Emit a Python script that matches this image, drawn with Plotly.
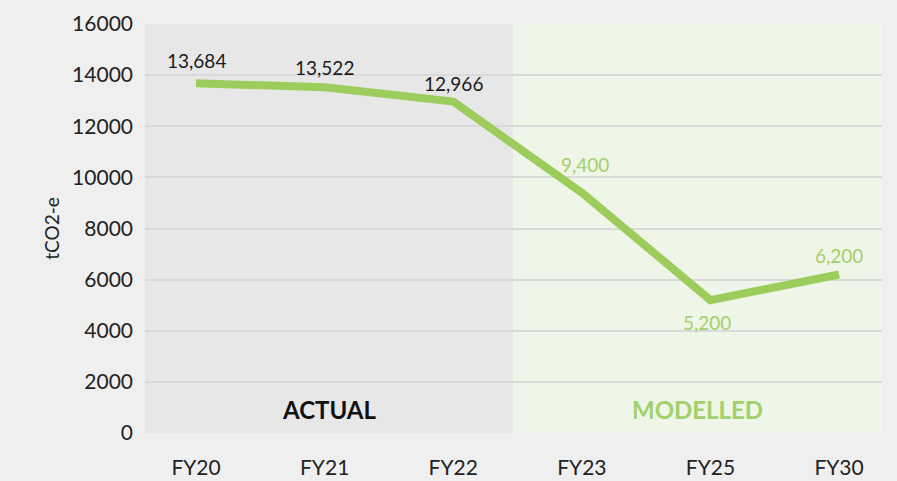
import plotly.graph_objects as go

categories = ["FY20", "FY21", "FY22", "FY23", "FY25", "FY30"]
values = [13684, 13522, 12966, 9400, 5200, 6200]
value_labels = ["13,684", "13,522", "12,966", "9,400", "5,200", "6,200"]
is_actual = [True, True, True, False, False, False]
y_ticks = [0, 2000, 4000, 6000, 8000, 10000, 12000, 14000, 16000]

GREEN = "#9ccd5c"
GREEN_TXT = "#a2d06a"
FONT = "Lato, 'Open Sans', sans-serif"

xs = list(range(len(categories)))
x_lo, x_hi = -0.397, 5.334
split = 2.465

fig = go.Figure()
fig.add_trace(go.Scatter(
    x=xs, y=values, mode="lines",
    line=dict(color=GREEN, width=8, shape="linear"),
    hoverinfo="skip", showlegend=False,
))

fig.add_shape(type="rect", xref="x", yref="y", x0=x_lo, x1=split, y0=0, y1=16000,
              fillcolor="#e7e7e7", line_width=0, layer="below")
fig.add_shape(type="rect", xref="x", yref="y", x0=split, x1=x_hi, y0=0, y1=16000,
              fillcolor="#eff5e7", line_width=0, layer="below")

offsets = [(0, 23), (0, 20), (0, 18), (3, 28), (-3, -22), (0, 19)]
for i, (x, v, lab, act) in enumerate(zip(xs, values, value_labels, is_actual)):
    dx, dy = offsets[i]
    fig.add_annotation(x=x, y=v, text=lab, showarrow=False, xshift=dx, yshift=dy,
                       font=dict(family=FONT, size=19, color="#1a1a1a" if act else GREEN_TXT))

fig.add_annotation(x=(x_lo + split) / 2, y=900, text="<b>ACTUAL</b>", showarrow=False,
                   font=dict(family=FONT, size=24, color="#111111"))
fig.add_annotation(x=(split + x_hi) / 2, y=900, text="<b>MODELLED</b>", showarrow=False,
                   font=dict(family=FONT, size=24, color=GREEN_TXT))

fig.update_layout(
    width=897, height=481,
    margin=dict(l=145, r=15, t=24, b=48),
    paper_bgcolor="#efefef", plot_bgcolor="#efefef",
    font=dict(family=FONT, color="#222222"),
    xaxis=dict(range=[x_lo, x_hi], tickvals=xs, ticktext=categories, showgrid=False,
               zeroline=False, showline=False, tickfont=dict(size=21, color="#222222"),
               ticks="", ticklabelstandoff=20, fixedrange=True, automargin=False),
    yaxis=dict(range=[0, 16000], tickvals=y_ticks, tickformat="d", showgrid=True,
               gridcolor="#d9d9d9", gridwidth=2, zeroline=False, showline=False,
               tickfont=dict(size=21, color="#222222"), ticks="", ticklabelstandoff=11,
               fixedrange=True, automargin=False,
               title=dict(text="tCO2-e", font=dict(size=19, color="#222222"), standoff=7)),
)

fig.write_html("out.html", config={"displayModeBar": False},
               post_script="document.body.style.margin='0';document.body.style.background='#efefef';")
